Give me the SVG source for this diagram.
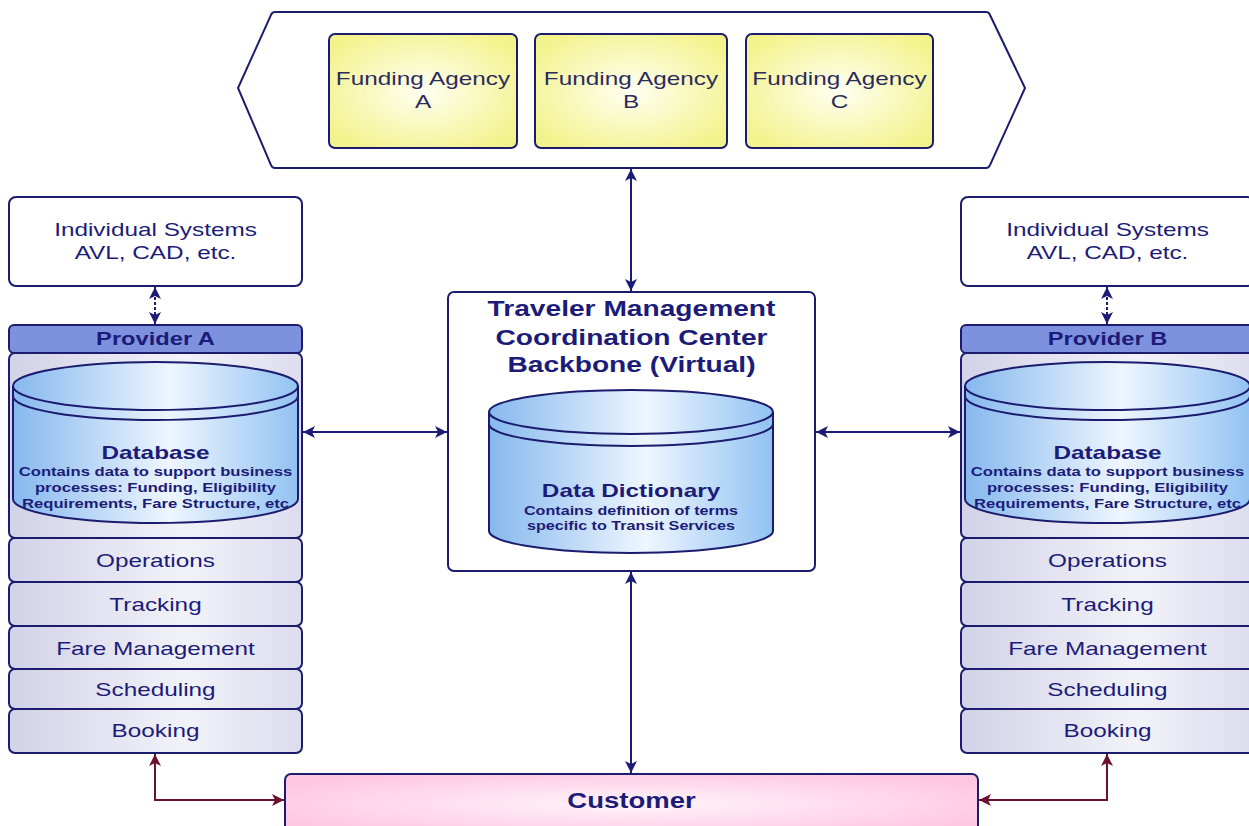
<svg xmlns="http://www.w3.org/2000/svg" width="1249" height="826" viewBox="0 0 1249 826">
<style>
.t{font-family:"Liberation Sans",Arial,sans-serif;fill:#1c1c78;text-anchor:middle}
.n{font-size:19px}
.b{font-weight:bold}
.fa{fill:#2c2c5a}
.box{stroke:#1c1c6e;stroke-width:2}
.cyl{fill:url(#blue);stroke:#1c1c6e;stroke-width:2}
.cl{fill:none;stroke:#1c1c6e;stroke-width:2}
.c{fill:none;stroke:#1c1c78;stroke-width:2}
.m{fill:none;stroke:#6e1030;stroke-width:2}
</style>
<defs>
<radialGradient id="yel" cx="0.5" cy="0.5" r="0.6"><stop offset="0" stop-color="#fffff2"/><stop offset="1" stop-color="#f3f38e"/></radialGradient>
<radialGradient id="pink" cx="0.5" cy="0.5" r="0.6"><stop offset="0" stop-color="#fff4fa"/><stop offset="1" stop-color="#ffc6e2"/></radialGradient>
<linearGradient id="blue" x1="0" y1="0" x2="1" y2="0"><stop offset="0" stop-color="#86b8ee"/><stop offset="0.55" stop-color="#eef6ff"/><stop offset="1" stop-color="#92c2f2"/></linearGradient>
<linearGradient id="lav" x1="0" y1="0" x2="1" y2="0"><stop offset="0" stop-color="#d2d2e8"/><stop offset="0.6" stop-color="#f2f2f9"/><stop offset="1" stop-color="#dcdcee"/></linearGradient>
<marker id="ah" viewBox="0 0 12 12" refX="12" refY="6" markerWidth="12" markerHeight="12" markerUnits="userSpaceOnUse" orient="auto-start-reverse"><path d="M0,0 L12,6 L0,12 L3,6 z" fill="#1c1c78"/></marker>
<marker id="am" viewBox="0 0 12 12" refX="12" refY="6" markerWidth="12" markerHeight="12" markerUnits="userSpaceOnUse" orient="auto-start-reverse"><path d="M0,0 L12,6 L0,12 L3,6 z" fill="#6e1030"/></marker>
<g id="provider">
<rect class="box" x="9" y="353" width="293" height="185" rx="6" fill="url(#lav)"/>
<path class="cyl" d="M13,386 A142.5,24 0 0 1 298,386 L298,499 A142.5,24 0 0 1 13,499 Z"/>
<path class="cl" d="M13,386 A142.5,24 0 0 0 298,386"/>
<path class="cl" d="M13,396 A142.5,24 0 0 0 298,396"/>
<text class="t b" font-size="19" transform="translate(155.5 459) scale(1.28 1)">Database</text>
<text class="t b" font-size="13" transform="translate(155.5 476) scale(1.28 1)">Contains data to support  business</text>
<text class="t b" font-size="13" transform="translate(155.5 492) scale(1.28 1)">processes: Funding, Eligibility</text>
<text class="t b" font-size="13" transform="translate(155.5 508) scale(1.28 1)">Requirements, Fare Structure, etc</text>
<rect class="box" x="9" y="538" width="293" height="44" rx="6" fill="url(#lav)"/>
<text class="t n" transform="translate(155.5 567) scale(1.28 1)">Operations</text>
<rect class="box" x="9" y="582" width="293" height="44" rx="6" fill="url(#lav)"/>
<text class="t n" transform="translate(155.5 611) scale(1.28 1)">Tracking</text>
<rect class="box" x="9" y="626" width="293" height="43" rx="6" fill="url(#lav)"/>
<text class="t n" transform="translate(155.5 655) scale(1.28 1)">Fare Management</text>
<rect class="box" x="9" y="669" width="293" height="40" rx="6" fill="url(#lav)"/>
<text class="t n" transform="translate(155.5 696) scale(1.28 1)">Scheduling</text>
<rect class="box" x="9" y="709" width="293" height="44" rx="6" fill="url(#lav)"/>
<text class="t n" transform="translate(155.5 737) scale(1.28 1)">Booking</text>
<rect class="box" x="9" y="197" width="293" height="89" rx="7" fill="#ffffff"/>
<text class="t n" transform="translate(155.5 236) scale(1.28 1)">Individual Systems</text>
<text class="t n" transform="translate(155.5 259) scale(1.28 1)">AVL, CAD, etc.</text>
</g>
</defs>
<rect width="1249" height="826" fill="#ffffff"/>

<g id="funding">
<path class="box" d="M275,12 L986,12 Q989,12 990,15 L1025,88 L990,165 Q989,168 986,168 L275,168 Q272,168 271,165 L238,88 L271,15 Q272,12 275,12 Z" fill="#ffffff"/>
<g id="agencyA">
<rect class="box" x="329" y="34" width="188" height="114" rx="6" fill="url(#yel)"/>
<text class="t n fa" transform="translate(423 85) scale(1.28 1)">Funding Agency</text>
<text class="t n fa" transform="translate(423 108) scale(1.28 1)">A</text>
</g>
<g id="agencyB">
<rect class="box" x="535" y="34" width="192" height="114" rx="6" fill="url(#yel)"/>
<text class="t n fa" transform="translate(631 85) scale(1.28 1)">Funding Agency</text>
<text class="t n fa" transform="translate(631 108) scale(1.28 1)">B</text>
</g>
<g id="agencyC">
<rect class="box" x="746" y="34" width="187" height="114" rx="6" fill="url(#yel)"/>
<text class="t n fa" transform="translate(839.5 85) scale(1.28 1)">Funding Agency</text>
<text class="t n fa" transform="translate(839.5 108) scale(1.28 1)">C</text>
</g>
</g>

<g id="providerA">
<use href="#provider"/>
<rect class="box" x="9" y="325" width="293" height="28" rx="5" fill="#7d91df"/>
<text class="t b" font-size="18.5" transform="translate(155.5 345) scale(1.28 1)">Provider A</text>
</g>

<g id="providerB">
<use href="#provider" transform="translate(952 0)"/>
<rect class="box" x="961" y="325" width="293" height="28" rx="5" fill="#7d91df"/>
<text class="t b" font-size="18.5" transform="translate(1107.5 345) scale(1.28 1)">Provider B</text>
</g>

<g id="tmcc">
<rect class="box" x="448" y="292" width="367" height="279" rx="6" fill="#ffffff"/>
<text class="t b" font-size="22" transform="translate(631.5 316) scale(1.28 1)">Traveler Management</text>
<text class="t b" font-size="22" transform="translate(631.5 345) scale(1.28 1)">Coordination Center</text>
<text class="t b" font-size="22" transform="translate(631.5 372) scale(1.28 1)">Backbone (Virtual)</text>
<path class="cyl" d="M489,412 A142,22 0 0 1 773,412 L773,531 A142,22 0 0 1 489,531 Z"/>
<path class="cl" d="M489,412 A142,22 0 0 0 773,412"/>
<path class="cl" d="M489,424 A142,22 0 0 0 773,424"/>
<text class="t b" font-size="19" transform="translate(631 497) scale(1.28 1)">Data Dictionary</text>
<text class="t b" font-size="12.6" transform="translate(631 514.5) scale(1.28 1)">Contains definition of terms</text>
<text class="t b" font-size="12.6" transform="translate(631 529.5) scale(1.28 1)">specific to Transit Services</text>
</g>

<g id="customer">
<rect class="box" x="285" y="774" width="693" height="60" rx="6" fill="url(#pink)"/>
<text class="t b" font-size="21.5" transform="translate(631.5 808) scale(1.28 1)">Customer</text>
</g>

<g id="connectors">
<path class="c" d="M631,169 L631,291" marker-start="url(#ah)" marker-end="url(#ah)"/>
<path class="c" d="M303,432 L447,432" marker-start="url(#ah)" marker-end="url(#ah)"/>
<path class="c" d="M816,432 L960,432" marker-start="url(#ah)" marker-end="url(#ah)"/>
<path class="c" d="M631,572 L631,773" marker-start="url(#ah)" marker-end="url(#ah)"/>
<path class="c" d="M155,287 L155,324" stroke-dasharray="3,2" marker-start="url(#ah)" marker-end="url(#ah)"/>
<path class="c" d="M1107,287 L1107,324" stroke-dasharray="3,2" marker-start="url(#ah)" marker-end="url(#ah)"/>
<path class="m" d="M155,754 L155,800 L284,800" marker-start="url(#am)" marker-end="url(#am)"/>
<path class="m" d="M1107,754 L1107,800 L979,800" marker-start="url(#am)" marker-end="url(#am)"/>
</g>
</svg>
